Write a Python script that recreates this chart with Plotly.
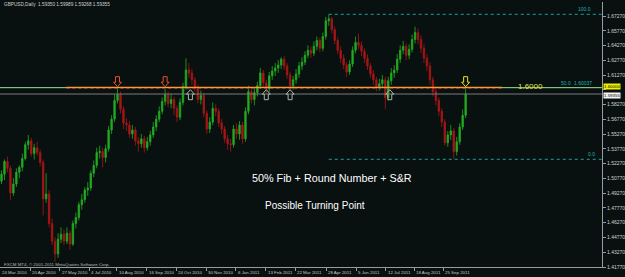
import plotly.graph_objects as go

# ---------------- data (GBPUSD daily, each candle ~3 sessions) ----------------
opens = [
1.5050, 1.5120, 1.5250, 1.5180, 1.4930, 1.5020, 1.5140, 1.5190, 1.5280, 1.5420,
1.5460, 1.5330, 1.5390, 1.5340, 1.5240, 1.4870, 1.4920, 1.4620, 1.4440, 1.4310,
1.4460, 1.4510, 1.4440, 1.4520, 1.4410, 1.4620, 1.4680, 1.4810, 1.4860, 1.4960,
1.4980, 1.5130, 1.5210, 1.5340, 1.5350, 1.5290, 1.5380, 1.5570, 1.5680, 1.5870,
1.5930, 1.5780, 1.5640, 1.5620, 1.5530, 1.5570, 1.5460, 1.5430, 1.5480, 1.5390,
1.5450, 1.5520, 1.5600, 1.5680, 1.5760, 1.5860, 1.5930, 1.5840, 1.5880, 1.5790,
1.5700, 1.5850, 1.6010, 1.6180, 1.6150, 1.6080, 1.6000, 1.5880, 1.5920, 1.5740,
1.5580, 1.5650, 1.5790, 1.5760, 1.5640, 1.5580, 1.5480, 1.5430, 1.5420, 1.5580,
1.5530, 1.5620, 1.5480, 1.5760, 1.5960, 1.5880, 1.5950, 1.6020, 1.6150, 1.6050,
1.5990, 1.6120, 1.6170, 1.6200, 1.6230, 1.6290, 1.6220, 1.6130, 1.6020, 1.6080,
1.6140, 1.6220, 1.6260, 1.6330, 1.6380, 1.6350, 1.6420, 1.6480, 1.6400, 1.6520,
1.6680, 1.6700, 1.6590, 1.6480, 1.6380, 1.6300, 1.6230, 1.6160, 1.6240, 1.6380,
1.6460, 1.6430, 1.6370, 1.6300, 1.6220, 1.6140, 1.6080, 1.6010, 1.6040, 1.6080,
1.5900, 1.6070, 1.6150, 1.6180, 1.6290, 1.6380, 1.6420, 1.6330, 1.6390, 1.6490,
1.6560, 1.6490, 1.6400, 1.6300, 1.6220, 1.6080, 1.5960, 1.5870, 1.5760, 1.5650,
1.5440, 1.5520, 1.5560, 1.5350, 1.5450, 1.5600, 1.5720]
highs = [
1.5160, 1.5270, 1.5300, 1.5210, 1.5080, 1.5180, 1.5210, 1.5330, 1.5450, 1.5520,
1.5490, 1.5430, 1.5450, 1.5370, 1.5270, 1.5130, 1.4960, 1.4670, 1.4480, 1.4520,
1.4580, 1.4560, 1.4580, 1.4550, 1.4650, 1.4730, 1.4840, 1.4920, 1.4990, 1.5040,
1.5160, 1.5260, 1.5390, 1.5410, 1.5390, 1.5420, 1.5610, 1.5720, 1.5930, 1.5995,
1.5960, 1.5810, 1.5690, 1.5660, 1.5620, 1.5600, 1.5500, 1.5530, 1.5510, 1.5500,
1.5560, 1.5650, 1.5720, 1.5810, 1.5900, 1.5985, 1.5960, 1.5940, 1.5910, 1.5820,
1.5890, 1.6050, 1.6298, 1.6250, 1.6190, 1.6110, 1.6030, 1.5970, 1.5950, 1.5770,
1.5700, 1.5850, 1.5830, 1.5790, 1.5680, 1.5610, 1.5520, 1.5480, 1.5620, 1.5640,
1.5660, 1.5650, 1.5800, 1.6020, 1.6000, 1.5990, 1.6060, 1.6200, 1.6180, 1.6080,
1.6160, 1.6220, 1.6250, 1.6280, 1.6310, 1.6320, 1.6250, 1.6160, 1.6120, 1.6190,
1.6260, 1.6310, 1.6370, 1.6430, 1.6420, 1.6470, 1.6520, 1.6510, 1.6560, 1.6720,
1.6746, 1.6720, 1.6620, 1.6510, 1.6420, 1.6340, 1.6260, 1.6280, 1.6420, 1.6520,
1.6550, 1.6470, 1.6400, 1.6340, 1.6250, 1.6180, 1.6110, 1.6090, 1.6130, 1.6110,
1.6110, 1.6200, 1.6230, 1.6340, 1.6430, 1.6475, 1.6450, 1.6440, 1.6540, 1.6620,
1.6600, 1.6530, 1.6440, 1.6340, 1.6260, 1.6110, 1.6000, 1.5900, 1.5790, 1.5680,
1.5560, 1.5620, 1.5590, 1.5500, 1.5640, 1.5780, 1.5999]
lows = [
1.5020, 1.5060, 1.5140, 1.4860, 1.4900, 1.4990, 1.5080, 1.5150, 1.5260, 1.5370,
1.5300, 1.5270, 1.5310, 1.5200, 1.4700, 1.4830, 1.4580, 1.4400, 1.4230, 1.4270,
1.4420, 1.4400, 1.4410, 1.4350, 1.4390, 1.4570, 1.4650, 1.4760, 1.4830, 1.4900,
1.4950, 1.5090, 1.5180, 1.5280, 1.5190, 1.5240, 1.5350, 1.5530, 1.5650, 1.5840,
1.5740, 1.5580, 1.5560, 1.5490, 1.5480, 1.5410, 1.5350, 1.5390, 1.5340, 1.5360,
1.5410, 1.5490, 1.5560, 1.5650, 1.5730, 1.5820, 1.5800, 1.5790, 1.5720, 1.5650,
1.5670, 1.5820, 1.5980, 1.6100, 1.6030, 1.5960, 1.5840, 1.5830, 1.5700, 1.5530,
1.5540, 1.5620, 1.5710, 1.5600, 1.5530, 1.5440, 1.5370, 1.5350, 1.5390, 1.5480,
1.5470, 1.5430, 1.5450, 1.5730, 1.5840, 1.5820, 1.5910, 1.5990, 1.6010, 1.5940,
1.5960, 1.6080, 1.6120, 1.6150, 1.6190, 1.6180, 1.6090, 1.5970, 1.5980, 1.6040,
1.6100, 1.6180, 1.6230, 1.6300, 1.6300, 1.6320, 1.6380, 1.6360, 1.6370, 1.6490,
1.6630, 1.6550, 1.6440, 1.6340, 1.6250, 1.6190, 1.6110, 1.6130, 1.6210, 1.6350,
1.6390, 1.6320, 1.6250, 1.6180, 1.6100, 1.6030, 1.5960, 1.5970, 1.6000, 1.5780,
1.5870, 1.6030, 1.6100, 1.6150, 1.6250, 1.6340, 1.6280, 1.6290, 1.6360, 1.6450,
1.6440, 1.6350, 1.6250, 1.6170, 1.6030, 1.5910, 1.5820, 1.5710, 1.5600, 1.5410,
1.5400, 1.5470, 1.5272, 1.5310, 1.5420, 1.5570, 1.5690]
closes = [
1.5120, 1.5250, 1.5180, 1.4930, 1.5020, 1.5140, 1.5190, 1.5280, 1.5420, 1.5460,
1.5330, 1.5390, 1.5340, 1.5240, 1.4870, 1.4920, 1.4620, 1.4440, 1.4310, 1.4460,
1.4510, 1.4440, 1.4520, 1.4410, 1.4620, 1.4680, 1.4810, 1.4860, 1.4960, 1.4980,
1.5130, 1.5210, 1.5340, 1.5350, 1.5290, 1.5380, 1.5570, 1.5680, 1.5870, 1.5930,
1.5780, 1.5640, 1.5620, 1.5530, 1.5570, 1.5460, 1.5430, 1.5480, 1.5390, 1.5450,
1.5520, 1.5600, 1.5680, 1.5760, 1.5860, 1.5930, 1.5840, 1.5880, 1.5790, 1.5700,
1.5850, 1.6010, 1.6180, 1.6150, 1.6080, 1.6000, 1.5880, 1.5920, 1.5740, 1.5580,
1.5650, 1.5790, 1.5760, 1.5640, 1.5580, 1.5480, 1.5430, 1.5420, 1.5580, 1.5530,
1.5620, 1.5480, 1.5760, 1.5960, 1.5880, 1.5950, 1.6020, 1.6150, 1.6050, 1.5990,
1.6120, 1.6170, 1.6200, 1.6230, 1.6290, 1.6220, 1.6130, 1.6020, 1.6080, 1.6140,
1.6220, 1.6260, 1.6330, 1.6380, 1.6350, 1.6420, 1.6480, 1.6400, 1.6520, 1.6680,
1.6700, 1.6590, 1.6480, 1.6380, 1.6300, 1.6230, 1.6160, 1.6240, 1.6380, 1.6460,
1.6430, 1.6370, 1.6300, 1.6220, 1.6140, 1.6080, 1.6010, 1.6040, 1.6080, 1.5900,
1.6070, 1.6150, 1.6180, 1.6290, 1.6380, 1.6420, 1.6330, 1.6390, 1.6490, 1.6560,
1.6490, 1.6400, 1.6300, 1.6220, 1.6080, 1.5960, 1.5870, 1.5760, 1.5650, 1.5440,
1.5520, 1.5560, 1.5350, 1.5450, 1.5600, 1.5720, 1.5936]

date_labels = ["20 Apr 2010", "27 May 2010", "4 Jul 2010", "10 Aug 2010", "16 Sep 2010",
               "24 Oct 2010", "30 Nov 2010", "6 Jan 2011", "13 Feb 2011", "22 Mar 2011",
               "28 Apr 2011", "5 Jun 2011", "12 Jul 2011", "18 Aug 2011", "25 Sep 2011"]
date_pos = [9.7, 19.5, 29.5, 38.8, 48.8, 58.8, 68.8, 78.8, 88.8, 98.8,
            109.2, 119.2, 129.2, 138.8, 148.5]
first_label = "24 Mar 2010"

price_ticks = [1.4177, 1.4327, 1.4477, 1.4627, 1.4777, 1.4927, 1.5077, 1.5227, 1.5377,
               1.5527, 1.5677, 1.5827, 1.5977, 1.6127, 1.6277, 1.6427, 1.6577, 1.6727]

level_round = 1.6000
last_price = 1.59355
fib_high = 1.6746
fib_low = 1.5272
fib_start = 110
orange_from, orange_to = 21.8, 168.2
arrows_down = [39, 55]
arrows_up = [63.5, 89, 97, 130.5]
arrow_alert = 156

header = "GBPUSD,Daily  1.59350 1.59989 1.59268 1.59355"

# ---------------- figure ----------------
BG = "#091010"
XR = [-0.5, 201.83]
YR = [1.4177, 1.6871]
idx = list(range(len(closes)))

fig = go.Figure()
fig.add_trace(go.Candlestick(
    x=idx, open=opens, high=highs, low=lows, close=closes,
    increasing=dict(line=dict(color="#22ac22", width=0.8), fillcolor="#22ac22"),
    decreasing=dict(line=dict(color="#aa1616", width=0.8), fillcolor="#aa1616"),
    whiskerwidth=0, showlegend=False, hoverinfo="skip"))

shapes = []
def hline(y, x0, x1, color, width=1, dash="solid"):
    shapes.append(dict(type="line", xref="x", yref="y", x0=x0, x1=x1, y0=y, y1=y,
                       line=dict(color=color, width=width, dash=dash)))

hline(last_price, XR[0], XR[1], "#7a7a7a")
hline(level_round, XR[0], XR[1], "#98e890")
hline(level_round + 0.0003, orange_from, orange_to, "#ff9a40", 1.2)
hline(level_round - 0.0008, orange_from, orange_to, "#b03818", 1, "dot")
hline(fib_high, fib_start, XR[1], "#1fa0a0", 1, "dot")
hline(fib_low, fib_start, XR[1], "#1fa0a0", 1, "dot")

down_path = "M0,1 L-4,5.5 L-2,5.5 L-2,11 L2,11 L2,5.5 L4,5.5 Z"
up_path = "M0,-2 L-4,-6.5 L-2,-6.5 L-2,-12 L2,-12 L2,-6.5 L4,-6.5 Z"
for xa in arrows_down:
    shapes.append(dict(type="path", xref="x", yref="y", xsizemode="pixel", ysizemode="pixel",
                       xanchor=xa, yanchor=level_round, path=down_path,
                       line=dict(color="#e8502c", width=1)))
for xa in arrows_up:
    shapes.append(dict(type="path", xref="x", yref="y", xsizemode="pixel", ysizemode="pixel",
                       xanchor=xa, yanchor=level_round, path=up_path,
                       line=dict(color="#a8b8a8", width=1)))
shapes.append(dict(type="path", xref="x", yref="y", xsizemode="pixel", ysizemode="pixel",
                   xanchor=arrow_alert, yanchor=level_round, path=down_path,
                   line=dict(color="#f0e020", width=1)))

ann = []
TF = "Liberation Sans, Arial, sans-serif"
for lab, p in zip(date_labels, date_pos):
    ann.append(dict(x=p, y=0, xref="x", yref="paper", text=lab, showarrow=False,
                    xanchor="left", yanchor="top", xshift=0, yshift=-1,
                    font=dict(size=4.4, color="#c8c8c8", family=TF)))
ann.append(dict(x=0, y=0, xref="paper", yref="paper", text=first_label, showarrow=False,
                xanchor="left", yanchor="top", yshift=-1,
                font=dict(size=4.4, color="#c8c8c8", family=TF)))
ann.append(dict(x=0.004, y=0.992, xref="paper", yref="paper", text=header, showarrow=False,
                xanchor="left", yanchor="middle", font=dict(size=4.7, color="#d0d0d0", family=TF)))
ann.append(dict(x=0.003, y=0.008, xref="paper", yref="paper",
                text="FXCM MT4, © 2001-2011 MetaQuotes Software Corp.", showarrow=False,
                xanchor="left", yanchor="middle", font=dict(size=4.4, color="#b8b8b8", family=TF)))
ann.append(dict(x=0.9045, y=0.7057, xref="paper", yref="paper", text="1.6000", showarrow=False,
                font=dict(size=8, color="#e8e040", family=TF)))
ann.append(dict(x=0.5519, y=0.3057, xref="paper", yref="paper",
                text="50% Fib + Round Number + S&R", showarrow=False,
                font=dict(size=10.8, color="#ffffff", family=TF)))
ann.append(dict(x=0.5239, y=0.2038, xref="paper", yref="paper",
                text="Possible Turning Point", showarrow=False,
                font=dict(size=10, color="#ffffff", family=TF)))
# fib labels
ann.append(dict(x=0.985, y=fib_high, xref="paper", yref="y", text="100.0", showarrow=False,
                yanchor="bottom", font=dict(size=5, color="#1fb0b0", family=TF)))
ann.append(dict(x=0.952, y=level_round, xref="paper", yref="y", text="50.0", showarrow=False,
                yanchor="bottom", font=dict(size=5, color="#1fb0b0", family=TF)))
ann.append(dict(x=0.987, y=level_round, xref="paper", yref="y", text="1.60037", showarrow=False,
                yanchor="bottom", font=dict(size=5, color="#1fb0b0", family=TF)))
ann.append(dict(x=0.991, y=fib_low, xref="paper", yref="y", text="0.0", showarrow=False,
                yanchor="bottom", font=dict(size=5, color="#1fb0b0", family=TF)))
# price boxes on axis (they cover the axis label behind them, as in the terminal)
ann.append(dict(x=1.0, y=level_round, xref="paper", yref="y", text="1.60000", showarrow=False,
                xanchor="left", yanchor="bottom", xshift=1, yshift=-2, bgcolor="#f0f000",
                borderpad=0, font=dict(size=4.4, color="#000000", family=TF)))
ann.append(dict(x=1.0, y=level_round, xref="paper", yref="y", text="1.59355", showarrow=False,
                xanchor="left", yanchor="top", xshift=1, yshift=-4, bgcolor="#f4f4f4",
                borderpad=0, font=dict(size=4.4, color="#000000", family=TF)))

tick_text = ["" if abs(v - level_round) < 0.005 else "%.5f" % v for v in price_ticks]

fig.update_layout(
    width=625, height=277, margin=dict(l=0, r=18, t=2, b=10),
    paper_bgcolor=BG, plot_bgcolor=BG, showlegend=False,
    shapes=shapes, annotations=ann,
    xaxis=dict(range=XR, rangeslider=dict(visible=False), showgrid=False, zeroline=False,
               showline=True, linecolor="#9a9a9a", linewidth=1,
               tickvals=date_pos, ticks="outside", ticklen=3, tickcolor="#9a9a9a",
               showticklabels=False, fixedrange=True),
    yaxis=dict(range=YR, side="right", showgrid=False, zeroline=False,
               showline=True, linecolor="#9a9a9a", linewidth=1,
               tickvals=price_ticks, ticktext=tick_text,
               ticks="outside", ticklen=3, tickcolor="#9a9a9a",
               tickfont=dict(size=5, color="#d0d0d0", family=TF), fixedrange=True),
)
fig.write_html("out.html")
